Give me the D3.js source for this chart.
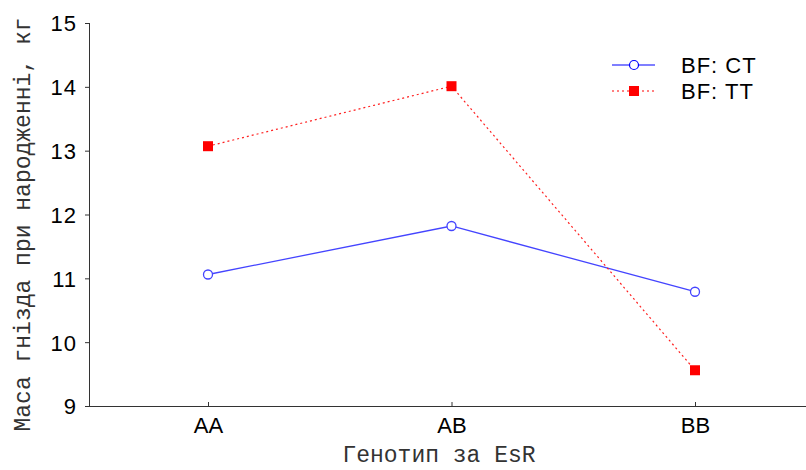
<!DOCTYPE html>
<html>
<head>
<meta charset="utf-8">
<script src="https://cdn.jsdelivr.net/npm/d3@7"></script>
<style>
  html, body { margin: 0; padding: 0; background: #fff; }
  svg { display: block; }
</style>
</head>
<body>
<div id="chart"></div>
<script>
// Genotype categories and litter weight at birth (kg) for the two BF groups
const genotypes = ["AA", "AB", "BB"];
const seriesNames = ["BF: CT", "BF: TT"];
const valuesCT = [11.06, 11.82, 10.79];
const valuesTT = [13.07, 14.01, 9.56];
const yTicks = [9, 10, 11, 12, 13, 14, 15];

const width = 806, height = 470;
const plotLeft = 89, plotRight = 806, plotTop = 23, plotBottom = 406;

const svg = d3.select("#chart").append("svg")
  .attr("width", width).attr("height", height);

const x = d3.scalePoint().domain(genotypes).range([208, 695]);
const y = d3.scaleLinear().domain([9, 15]).range([plotBottom, plotTop]);

const axisColor = "#333";
const numFont = "Arial, 'Liberation Sans', sans-serif";
const monoFont = "'Courier New', 'Liberation Mono', monospace";

// Y axis
const yAxis = svg.append("g").attr("transform", `translate(${plotLeft},0)`)
  .call(d3.axisLeft(y).tickValues(yTicks).tickSize(4).tickFormat(d3.format("d")));
yAxis.select(".domain").attr("stroke", axisColor).attr("d", `M0.5,${plotTop}V${plotBottom}`);
yAxis.selectAll(".tick line").attr("stroke", axisColor);
yAxis.selectAll(".tick text")
  .attr("x", -12).attr("dy", "0.36em")
  .attr("font-family", numFont).attr("font-size", 22).attr("letter-spacing", 1)
  .attr("fill", "#000");

// X axis
const xAxis = svg.append("g").attr("transform", `translate(0,${plotBottom})`)
  .call(d3.axisBottom(x).tickSize(-4).tickSizeOuter(0));
xAxis.select(".domain").attr("stroke", axisColor).attr("d", `M${plotLeft},0.5H${plotRight}`);
xAxis.selectAll(".tick line").attr("stroke", axisColor);
xAxis.selectAll(".tick text")
  .attr("y", 11).attr("dy", "0.71em")
  .attr("font-family", numFont).attr("font-size", 22).attr("fill", "#000");

// Axis titles
svg.append("text")
  .attr("transform", `translate(30,${(plotTop + plotBottom) / 2 + 10}) rotate(-90)`)
  .attr("text-anchor", "middle")
  .attr("font-family", monoFont).attr("font-size", 23).attr("fill", "#333")
  .text("Маса гнізда при народженні, кг");

svg.append("text")
  .attr("x", 439).attr("y", 462)
  .attr("text-anchor", "middle")
  .attr("font-family", monoFont).attr("font-size", 23).attr("fill", "#333")
  .text("Генотип за EsR");

const line = d3.line().x((d, i) => x(genotypes[i])).y(d => y(d));

// Series CT: solid blue with open circles
svg.append("path").datum(valuesCT)
  .attr("d", line).attr("fill", "none")
  .attr("stroke", "#4444ff").attr("stroke-width", 1.3);

// Series TT: dotted red with filled squares
svg.append("path").datum(valuesTT)
  .attr("d", line).attr("fill", "none")
  .attr("stroke", "#ff2020").attr("stroke-width", 1.2)
  .attr("stroke-dasharray", "2,3");

svg.selectAll(".ct").data(valuesCT).enter().append("circle")
  .attr("cx", (d, i) => x(genotypes[i])).attr("cy", d => y(d)).attr("r", 4.5)
  .attr("fill", "#fff").attr("stroke", "#4444ff").attr("stroke-width", 1.3);

svg.selectAll(".tt").data(valuesTT).enter().append("rect")
  .attr("x", (d, i) => x(genotypes[i]) - 5).attr("y", d => y(d) - 5)
  .attr("width", 10).attr("height", 10)
  .attr("fill", "#ff0000");

// Legend
const legend = svg.append("g");
const legY = [65, 91];
legend.append("line").attr("x1", 612).attr("x2", 655).attr("y1", legY[0]).attr("y2", legY[0])
  .attr("stroke", "#0000ff").attr("stroke-width", 1.2);
legend.append("circle").attr("cx", 634).attr("cy", legY[0]).attr("r", 4.5)
  .attr("fill", "#fff").attr("stroke", "#0000ff").attr("stroke-width", 1.2);
legend.append("line").attr("x1", 612).attr("x2", 655).attr("y1", legY[1]).attr("y2", legY[1])
  .attr("stroke", "#ff0000").attr("stroke-width", 1).attr("stroke-dasharray", "2,3");
legend.append("rect").attr("x", 629).attr("y", legY[1] - 5).attr("width", 10).attr("height", 10)
  .attr("fill", "#ff0000");
legend.selectAll(".lt").data(seriesNames).enter().append("text")
  .attr("x", 681).attr("y", (d, i) => legY[i]).attr("dy", "0.36em")
  .attr("font-family", numFont).attr("font-size", 22).attr("letter-spacing", 1)
  .attr("fill", "#000")
  .text(d => d);
</script>
</body>
</html>
